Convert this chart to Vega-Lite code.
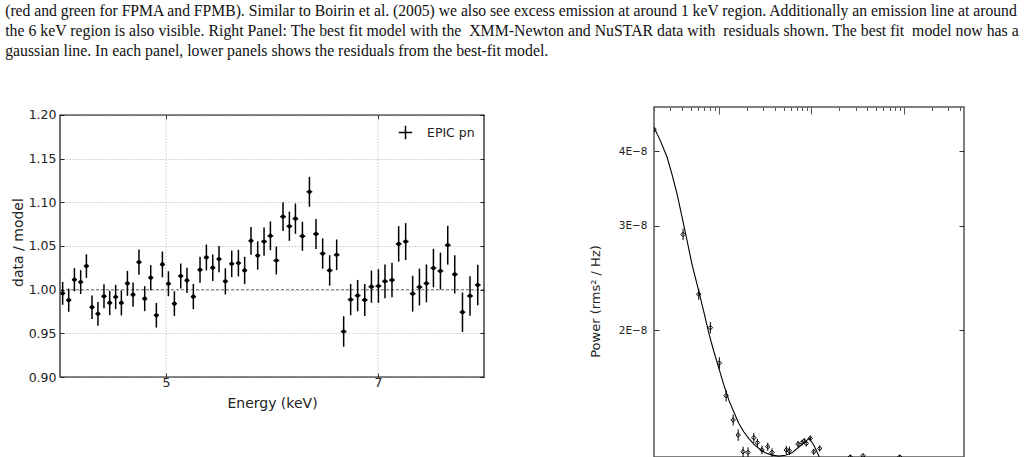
{
  "$schema": "https://vega.github.io/schema/vega-lite/v6.json",
  "autosize": {"type": "pad"},
  "padding": {"left": 5, "top": 3, "right": 0, "bottom": 0},
  "background": "white",
  "title": {
    "text": "(red and green for FPMA and FPMB). Similar to Boirin et al. (2005) we also see excess emission at around 1 keV region. Additionally an emission line at around",
    "subtitle": [
      "the 6 keV region is also visible. Right Panel: The best fit model with the\u00a0 XMM-Newton and NuSTAR data with\u00a0 residuals shown. The best fit\u00a0 model now has a",
      "gaussian line. In each panel, lower panels shows the residuals from the best-fit model."
    ],
    "anchor": "start",
    "frame": "bounds",
    "font": "Liberation Serif",
    "fontSize": 15.66,
    "fontWeight": "normal",
    "color": "#111",
    "lineHeight": 19.8,
    "subtitleFont": "Liberation Serif",
    "subtitleFontSize": 15.8,
    "subtitleColor": "#111",
    "subtitleLineHeight": 19.8,
    "subtitlePadding": 4,
    "offset": 46,
    "dx": -6
  },
  "datasets": {
    "epic": [
      {"E": 4.025, "v": 0.9958, "err": 0.0131, "xe": 0.024},
      {"E": 4.082, "v": 0.988, "err": 0.0133, "xe": 0.024},
      {"E": 4.136, "v": 1.0114, "err": 0.0133, "xe": 0.024},
      {"E": 4.195, "v": 1.0087, "err": 0.0137, "xe": 0.024},
      {"E": 4.249, "v": 1.027, "err": 0.0135, "xe": 0.024},
      {"E": 4.302, "v": 0.9799, "err": 0.0135, "xe": 0.024},
      {"E": 4.358, "v": 0.9723, "err": 0.0135, "xe": 0.024},
      {"E": 4.415, "v": 0.9924, "err": 0.0137, "xe": 0.024},
      {"E": 4.469, "v": 0.9848, "err": 0.0139, "xe": 0.024},
      {"E": 4.525, "v": 0.9916, "err": 0.0139, "xe": 0.024},
      {"E": 4.579, "v": 0.9848, "err": 0.0143, "xe": 0.024},
      {"E": 4.636, "v": 1.0072, "err": 0.0143, "xe": 0.024},
      {"E": 4.689, "v": 0.9943, "err": 0.0139, "xe": 0.024},
      {"E": 4.745, "v": 1.0315, "err": 0.0144, "xe": 0.024},
      {"E": 4.799, "v": 0.9897, "err": 0.0143, "xe": 0.024},
      {"E": 4.856, "v": 1.0137, "err": 0.0144, "xe": 0.024},
      {"E": 4.909, "v": 0.9707, "err": 0.0141, "xe": 0.024},
      {"E": 4.966, "v": 1.0289, "err": 0.0148, "xe": 0.024},
      {"E": 5.023, "v": 1.0068, "err": 0.0143, "xe": 0.024},
      {"E": 5.079, "v": 0.984, "err": 0.0141, "xe": 0.024},
      {"E": 5.139, "v": 1.0156, "err": 0.0143, "xe": 0.024},
      {"E": 5.198, "v": 1.0106, "err": 0.0144, "xe": 0.024},
      {"E": 5.258, "v": 0.992, "err": 0.0144, "xe": 0.024},
      {"E": 5.321, "v": 1.0228, "err": 0.0148, "xe": 0.024},
      {"E": 5.381, "v": 1.0369, "err": 0.0148, "xe": 0.024},
      {"E": 5.441, "v": 1.0251, "err": 0.0152, "xe": 0.024},
      {"E": 5.5, "v": 1.035, "err": 0.015, "xe": 0.024},
      {"E": 5.56, "v": 1.0095, "err": 0.015, "xe": 0.024},
      {"E": 5.62, "v": 1.0296, "err": 0.0152, "xe": 0.024},
      {"E": 5.683, "v": 1.0304, "err": 0.0152, "xe": 0.024},
      {"E": 5.742, "v": 1.022, "err": 0.0156, "xe": 0.024},
      {"E": 5.802, "v": 1.0559, "err": 0.0158, "xe": 0.024},
      {"E": 5.865, "v": 1.0391, "err": 0.0162, "xe": 0.024},
      {"E": 5.925, "v": 1.0551, "err": 0.0162, "xe": 0.027},
      {"E": 5.985, "v": 1.0616, "err": 0.0165, "xe": 0.027},
      {"E": 6.041, "v": 1.0334, "err": 0.016, "xe": 0.027},
      {"E": 6.104, "v": 1.0836, "err": 0.0165, "xe": 0.027},
      {"E": 6.164, "v": 1.0726, "err": 0.0167, "xe": 0.027},
      {"E": 6.221, "v": 1.0813, "err": 0.0173, "xe": 0.027},
      {"E": 6.287, "v": 1.0612, "err": 0.0167, "xe": 0.027},
      {"E": 6.353, "v": 1.1121, "err": 0.0171, "xe": 0.027},
      {"E": 6.415, "v": 1.0638, "err": 0.0171, "xe": 0.027},
      {"E": 6.478, "v": 1.0414, "err": 0.0173, "xe": 0.027},
      {"E": 6.544, "v": 1.022, "err": 0.0175, "xe": 0.027},
      {"E": 6.61, "v": 1.0399, "err": 0.0175, "xe": 0.027},
      {"E": 6.676, "v": 0.9521, "err": 0.0175, "xe": 0.027},
      {"E": 6.742, "v": 0.9886, "err": 0.0179, "xe": 0.027},
      {"E": 6.808, "v": 0.9932, "err": 0.018, "xe": 0.027},
      {"E": 6.875, "v": 0.9882, "err": 0.0184, "xe": 0.027},
      {"E": 6.938, "v": 1.0034, "err": 0.0184, "xe": 0.027},
      {"E": 7.004, "v": 1.0042, "err": 0.0192, "xe": 0.027},
      {"E": 7.066, "v": 1.0095, "err": 0.0192, "xe": 0.027},
      {"E": 7.132, "v": 1.011, "err": 0.0198, "xe": 0.027},
      {"E": 7.195, "v": 1.0524, "err": 0.0203, "xe": 0.027},
      {"E": 7.261, "v": 1.0551, "err": 0.0211, "xe": 0.027},
      {"E": 7.327, "v": 0.9954, "err": 0.0205, "xe": 0.027},
      {"E": 7.391, "v": 1.003, "err": 0.0211, "xe": 0.027},
      {"E": 7.457, "v": 1.0072, "err": 0.0217, "xe": 0.027},
      {"E": 7.523, "v": 1.0247, "err": 0.022, "xe": 0.027},
      {"E": 7.589, "v": 1.0213, "err": 0.0211, "xe": 0.027},
      {"E": 7.658, "v": 1.0509, "err": 0.0222, "xe": 0.027},
      {"E": 7.724, "v": 1.0175, "err": 0.0219, "xe": 0.027},
      {"E": 7.797, "v": 0.9742, "err": 0.0226, "xe": 0.027},
      {"E": 7.868, "v": 0.9928, "err": 0.0226, "xe": 0.027},
      {"E": 7.941, "v": 1.0053, "err": 0.0232, "xe": 0.027},
      {"E": 8.03, "v": 1.0156, "err": 0.023, "xe": 0.027}
    ],
    "model": [
      {"f": 0.0002, "P": 4.39e-8},
      {"f": 0.000234, "P": 4.17e-8},
      {"f": 0.000277, "P": 3.91e-8},
      {"f": 0.000313, "P": 3.66e-8},
      {"f": 0.000355, "P": 3.39e-8},
      {"f": 0.000402, "P": 3.10e-8},
      {"f": 0.000455, "P": 2.83e-8},
      {"f": 0.000515, "P": 2.58e-8},
      {"f": 0.000608, "P": 2.33e-8},
      {"f": 0.000689, "P": 2.15e-8},
      {"f": 0.00078, "P": 1.98e-8},
      {"f": 0.000883, "P": 1.844e-8},
      {"f": 0.001, "P": 1.729e-8},
      {"f": 0.001132, "P": 1.62e-8},
      {"f": 0.001282, "P": 1.527e-8},
      {"f": 0.001451, "P": 1.459e-8},
      {"f": 0.001643, "P": 1.395e-8},
      {"f": 0.001861, "P": 1.35e-8},
      {"f": 0.002107, "P": 1.316e-8},
      {"f": 0.002386, "P": 1.287e-8},
      {"f": 0.0027, "P": 1.266e-8},
      {"f": 0.00318, "P": 1.244e-8},
      {"f": 0.00376, "P": 1.233e-8},
      {"f": 0.00444, "P": 1.228e-8},
      {"f": 0.00523, "P": 1.232e-8},
      {"f": 0.00618, "P": 1.244e-8},
      {"f": 0.00729, "P": 1.271e-8},
      {"f": 0.00859, "P": 1.299e-8},
      {"f": 0.00949, "P": 1.316e-8},
      {"f": 0.01059, "P": 1.282e-8},
      {"f": 0.01149, "P": 1.249e-8},
      {"f": 0.01217, "P": 1.224e-8},
      {"f": 0.0147, "P": 1.18e-8},
      {"f": 0.02, "P": 1.15e-8}
    ],
    "pds": [
      {"f": 0.0002, "P": 4.35e-8, "e": 0.05e-8},
      {"f": 0.000412, "P": 2.9e-8, "e": 0.065e-8},
      {"f": 0.000608, "P": 2.3e-8, "e": 0.05e-8},
      {"f": 0.000812, "P": 2.02e-8, "e": 0.045e-8},
      {"f": 0.001015, "P": 1.762e-8, "e": 0.04e-8},
      {"f": 0.0012, "P": 1.552e-8, "e": 0.035e-8},
      {"f": 0.00143, "P": 1.413e-8, "e": 0.03e-8},
      {"f": 0.00162, "P": 1.333e-8, "e": 0.03e-8},
      {"f": 0.00183, "P": 1.249e-8, "e": 0.025e-8},
      {"f": 0.00207, "P": 1.246e-8, "e": 0.025e-8},
      {"f": 0.00239, "P": 1.319e-8, "e": 0.025e-8},
      {"f": 0.00261, "P": 1.294e-8, "e": 0.02e-8},
      {"f": 0.00293, "P": 1.258e-8, "e": 0.02e-8},
      {"f": 0.00338, "P": 1.274e-8, "e": 0.02e-8},
      {"f": 0.00376, "P": 1.246e-8, "e": 0.02e-8},
      {"f": 0.00536, "P": 1.258e-8, "e": 0.02e-8},
      {"f": 0.00578, "P": 1.254e-8, "e": 0.02e-8},
      {"f": 0.00717, "P": 1.287e-8, "e": 0.015e-8},
      {"f": 0.00792, "P": 1.294e-8, "e": 0.015e-8},
      {"f": 0.00838, "P": 1.302e-8, "e": 0.015e-8},
      {"f": 0.00881, "P": 1.29e-8, "e": 0.015e-8},
      {"f": 0.00973, "P": 1.316e-8, "e": 0.015e-8},
      {"f": 0.0106, "P": 1.249e-8, "e": 0.015e-8},
      {"f": 0.0123, "P": 1.265e-8, "e": 0.015e-8},
      {"f": 0.0263, "P": 1.224e-8, "e": 0.01e-8},
      {"f": 0.0361, "P": 1.23e-8, "e": 0.01e-8},
      {"f": 0.0898, "P": 1.224e-8, "e": 0.01e-8}
    ]
  },
  "config": {
    "axis": {
      "labelFont": "DejaVu Sans",
      "titleFont": "DejaVu Sans",
      "titleFontWeight": "normal",
      "labelColor": "#222",
      "titleColor": "#222",
      "tickColor": "#222",
      "domain": false,
      "grid": false
    },
    "legend": {"labelFont": "DejaVu Sans"}
  },
  "spacing": 98,
  "hconcat": [
    {
      "width": 424,
      "height": 270,
      "view": {"stroke": null},
      "layer": [
        {
          "data": {"values": [{"g": 5}, {"g": 7}]},
          "mark": {"type": "rule", "color": "#bbbbbb", "strokeDash": [1.5, 1.5], "strokeWidth": 0.8},
          "encoding": {
            "x": {"field": "g", "type": "quantitative", "scale": {"domain": [4, 8], "nice": false, "zero": false}, "axis": null},
            "y": {"datum": 0.9, "type": "quantitative", "scale": {"domain": [0.9, 1.20916], "nice": false, "zero": false}, "axis": null},
            "y2": {"datum": 1.2}
          }
        },
        {
          "data": {"values": [{"r": 1}]},
          "mark": {"type": "rule", "color": "#777", "strokeDash": [3, 2], "strokeWidth": 1},
          "encoding": {
            "y": {"field": "r", "type": "quantitative", "axis": null}
          }
        },
        {
          "data": {"name": "epic"},
          "mark": {"type": "errorbar", "color": "black", "thickness": 1.5, "ticks": false, "clip": true},
          "encoding": {
            "x": {"field": "E", "type": "quantitative", "axis": null},
            "y": {"field": "v", "type": "quantitative", "axis": null},
            "yError": {"field": "err"}
          }
        },
        {
          "data": {"name": "epic"},
          "mark": {"type": "errorbar", "color": "black", "thickness": 1.5, "ticks": false, "clip": true},
          "encoding": {
            "y": {"field": "v", "type": "quantitative", "axis": null},
            "x": {"field": "E", "type": "quantitative", "axis": null},
            "xError": {"field": "xe"}
          }
        },
        {
          "data": {"name": "epic"},
          "mark": {"type": "point", "filled": true, "size": 18, "opacity": 1, "clip": true},
          "encoding": {
            "x": {
              "field": "E", "type": "quantitative",
              "axis": {
                "orient": "bottom", "values": [5, 7], "format": "d", "title": "Energy (keV)",
                "labelFontSize": 12.5, "titleFontSize": 14, "tickSize": -4, "labelPadding": 3, "titlePadding": 8
              }
            },
            "y": {
              "field": "v", "type": "quantitative",
              "axis": {
                "orient": "left", "values": [0.9, 0.95, 1.0, 1.05, 1.1, 1.15, 1.2], "format": ".2f", "title": "data / model",
                "labelFontSize": 12.5, "titleFontSize": 14, "tickSize": -4, "labelPadding": 8, "titlePadding": 3,
                "grid": true, "gridDash": [1.5, 1.5], "gridColor": "#bbbbbb", "gridWidth": 0.8
              }
            },
            "color": {
              "datum": "EPIC pn",
              "scale": {"range": ["black"]},
              "legend": {
                "orient": "none", "legendX": 338, "legendY": 18, "title": null,
                "symbolType": "M-1,0H1M0,-1V1", "symbolSize": 180,
                "symbolStrokeColor": "black", "symbolStrokeWidth": 1.5,
                "labelFontSize": 12.5, "labelColor": "#222", "labelOffset": 14
              }
            }
          }
        },
        {
          "data": {"name": "epic"},
          "mark": {"type": "point", "opacity": 0},
          "encoding": {
            "x": {"field": "E", "type": "quantitative", "axis": {"orient": "top", "offset": -8, "values": [5, 7], "labels": false, "title": null, "tickSize": -4}},
            "y": {"field": "v", "type": "quantitative", "axis": {"orient": "right", "values": [0.9, 0.95, 1.0, 1.05, 1.1, 1.15, 1.2], "labels": false, "title": null, "tickSize": -4}}
          }
        },
        {
          "data": {"values": [{"a": 1}]},
          "mark": {"type": "rect", "fill": null, "fillOpacity": 0, "stroke": "#111", "strokeWidth": 1.2},
          "encoding": {
            "x": {"datum": 4, "type": "quantitative", "axis": null},
            "x2": {"datum": 8},
            "y": {"datum": 0.9, "type": "quantitative", "axis": null},
            "y2": {"datum": 1.2}
          }
        }
      ],
      "resolve": {"axis": {"x": "independent", "y": "independent"}}
    },
    {
      "width": 310,
      "height": 350,
      "view": {"stroke": "#555", "strokeWidth": 1.5},
      "layer": [
        {
          "data": {"name": "model"},
          "mark": {"type": "line", "color": "black", "strokeWidth": 1.1, "clip": true},
          "encoding": {
            "x": {
              "field": "f", "type": "quantitative",
              "scale": {"type": "log", "domain": [0.0002, 0.444], "nice": false},
              "axis": {
                "orient": "top", "labels": false, "title": null, "tickColor": "#555",
                "values": [0.0002, 0.0003, 0.0004, 0.0005, 0.0006, 0.0007, 0.0008, 0.0009, 0.001, 0.002, 0.003, 0.004, 0.005, 0.006, 0.007, 0.008, 0.009, 0.01, 0.02, 0.03, 0.04, 0.05, 0.06, 0.07, 0.08, 0.09, 0.1, 0.2, 0.3, 0.4],
                "tickSize": {"condition": {"test": "indexof([0.001, 0.01, 0.1], datum.value) >= 0", "value": -7}, "value": -3.5}
              }
            },
            "y": {
              "field": "P", "type": "quantitative",
              "scale": {"type": "log", "domain": [1.224e-8, 4.75e-8], "nice": false},
              "axis": {
                "orient": "left", "values": [2e-8, 3e-8, 4e-8],
                "labelExpr": "format(datum.value * 1e8, 'd') + 'E−8'",
                "title": "Power (rms² / Hz)", "labelFontSize": 10.5, "titleFontSize": 13, "titleY": 194,
                "tickSize": -5, "tickColor": "#333", "labelPadding": 12, "titlePadding": 16
              }
            }
          }
        },
        {
          "data": {"name": "pds"},
          "mark": {"type": "errorbar", "color": "black", "thickness": 1, "ticks": false, "clip": true},
          "encoding": {
            "x": {"field": "f", "type": "quantitative", "axis": null},
            "y": {"field": "P", "type": "quantitative", "axis": null},
            "yError": {"field": "e"}
          }
        },
        {
          "data": {"name": "pds"},
          "mark": {"type": "point", "shape": "diamond", "filled": false, "color": "black", "strokeWidth": 1, "size": 20, "opacity": 1, "clip": true},
          "encoding": {
            "x": {"field": "f", "type": "quantitative", "axis": null},
            "y": {"field": "P", "type": "quantitative", "axis": null}
          }
        },
        {
          "data": {"name": "pds"},
          "mark": {"type": "point", "opacity": 0},
          "encoding": {
            "x": {"field": "f", "type": "quantitative", "axis": null},
            "y": {"field": "P", "type": "quantitative", "axis": {"orient": "right", "values": [2e-8, 3e-8, 4e-8], "labels": false, "title": null, "tickSize": -5, "tickColor": "#333"}}
          }
        }
      ],
      "resolve": {"axis": {"x": "independent", "y": "independent"}}
    }
  ]
}
